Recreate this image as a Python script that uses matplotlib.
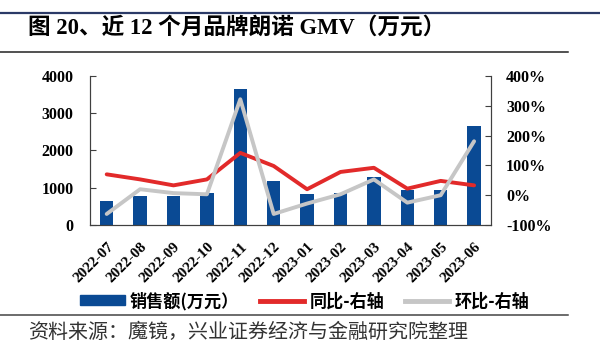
import matplotlib
matplotlib.use("Agg")
import matplotlib.pyplot as plt
from matplotlib.lines import Line2D
from matplotlib.patches import Patch
import numpy as np

months = ["2022-07", "2022-08", "2022-09", "2022-10", "2022-11", "2022-12",
          "2023-01", "2023-02", "2023-03", "2023-04", "2023-05", "2023-06"]
sales = [650, 790, 790, 850, 3650, 1170, 820, 870, 1300, 940, 930, 2650]
yoy = [70, 53, 33, 53, 142, 98, 20, 78, 92, 22, 48, 33]
mom = [-63, 20, 7, 3, 322, -63, -28, 3, 53, -25, 0, 181]
right_ticks = [-100, 0, 100, 200, 300, 400]
left_ticks = [0, 1000, 2000, 3000, 4000]

serif = ["Liberation Serif", "DejaVu Serif"]
cjk = ["Noto Sans CJK SC", "DejaVu Sans"]
mixed = ["Liberation Serif", "Noto Sans CJK SC"]

BLUE = "#0a4a94"
RED = "#e22a2a"
GRAY = "#c6c6c6"
SPINE = "#404040"

fig = plt.figure(figsize=(6.0, 3.56), dpi=100)
ax = fig.add_axes([0.15, 0.368, 0.668, 0.4185])
x = np.arange(len(months))
ax.bar(x, sales, width=0.4, color=BLUE, zorder=2)
ax.set_xlim(-0.5, len(months) - 0.5)
ax.set_ylim(0, 4000)
ax.set_yticks(left_ticks)
ax.set_xticks(x)
ax.set_xticklabels(months, rotation=45, ha="right", rotation_mode="anchor",
                   fontfamily=serif, fontweight="bold", fontsize=11)
for lab in ax.get_yticklabels():
    lab.set_fontfamily(serif); lab.set_fontweight("bold"); lab.set_fontsize(11.5)
ax.tick_params(axis="y", direction="in", length=4, color=SPINE, pad=12)
ax.tick_params(axis="x", length=0, pad=11)
ax.spines["top"].set_visible(False)
for s in ["left", "bottom", "right"]:
    ax.spines[s].set_color(SPINE)

ax2 = ax.twinx()
ax2.plot(x, yoy, color=RED, lw=2.8, zorder=3, solid_capstyle="round")
ax2.plot(x, mom, color=GRAY, lw=2.8, zorder=4, solid_capstyle="round")
ax2.set_ylim(-100, 400)
ax2.set_yticks(right_ticks)
ax2.set_yticklabels([f"{v}%" for v in right_ticks],
                    fontfamily=serif, fontweight="bold", fontsize=11.5)
ax2.tick_params(axis="y", direction="in", length=4, color=SPINE, pad=11)
ax2.spines["top"].set_visible(False)
for s in ["left", "bottom", "right"]:
    ax2.spines[s].set_color(SPINE)

# legend
handles = [Patch(color=BLUE), Line2D([], [], color=RED, lw=3.5), Line2D([], [], color=GRAY, lw=3.5)]
labels = ["销售额(万元）", "同比-右轴", "环比-右轴"]
leg = fig.legend(handles, labels, loc="center", bbox_to_anchor=(0.508, 0.1545),
                 ncol=3, frameon=False, prop={"family": cjk, "size": 12.3, "weight": "bold"},
                 handlelength=2.6, handleheight=0.5, columnspacing=1.2, handletextpad=0.3,
                 borderpad=0, borderaxespad=0)

# decorative lines
fig.add_artist(Line2D([0, 1], [1 - 12.5 / 356, 1 - 12.5 / 356], color="#2b3a67", lw=1.6))
fig.add_artist(Line2D([0, 568 / 600], [1 - 52 / 356, 1 - 52 / 356], color="#222222", lw=1.1))
fig.add_artist(Line2D([0, 568 / 600], [1 - 315 / 356, 1 - 315 / 356], color="#444444", lw=1.1))

fig.text(28 / 600, 1 - 28 / 356, "图 20、近 12 个月品牌朗诺 GMV（万元）", family=mixed,
         fontweight="bold", fontsize=16.3, va="center", ha="left")
fig.text(28 / 600, 1 - 332 / 356, "资料来源：魔镜，兴业证券经济与金融研究院整理", family=cjk,
         fontsize=14.4, va="center", ha="left", color="#333333")

fig.savefig("out.png", dpi=100)
